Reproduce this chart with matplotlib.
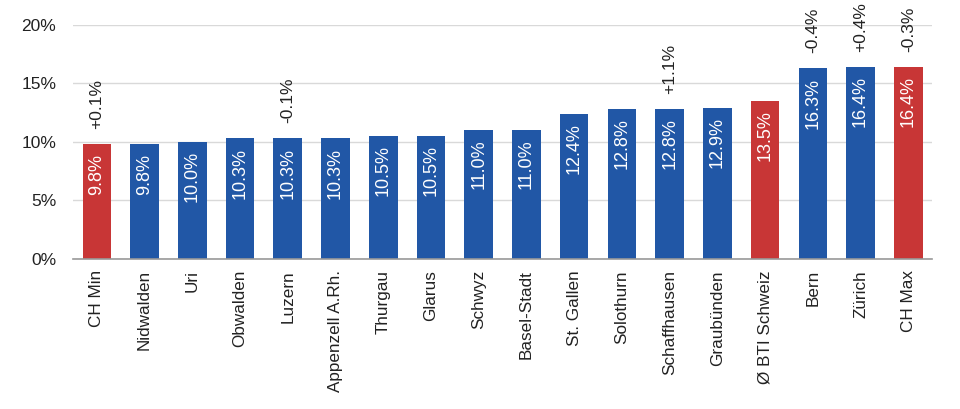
import matplotlib
matplotlib.use("Agg")
import matplotlib.pyplot as plt
from matplotlib.ticker import FuncFormatter

categories = ["CH Min", "Nidwalden", "Uri", "Obwalden", "Luzern", "Appenzell A.Rh.",
              "Thurgau", "Glarus", "Schwyz", "Basel-Stadt", "St. Gallen", "Solothurn",
              "Schaffhausen", "Graubünden", "Ø BTI Schweiz", "Bern", "Zürich", "CH Max"]
values = [9.8, 9.8, 10.0, 10.3, 10.3, 10.3, 10.5, 10.5, 11.0, 11.0, 12.4, 12.8,
          12.8, 12.9, 13.5, 16.3, 16.4, 16.4]
changes = ["+0.1%", "", "", "", "-0.1%", "", "", "", "", "", "", "", "+1.1%", "", "", "-0.4%", "+0.4%", "-0.3%"]
highlight = ["CH Min", "Ø BTI Schweiz", "CH Max"]

BLUE = "#2157a6"
RED = "#c83636"

plt.rcParams["font.family"] = ["Liberation Sans", "DejaVu Sans"]
fig = plt.figure(figsize=(9.6, 4.09), dpi=100)
ax = fig.add_axes([0.076, 0.367, 0.895, 0.572])

x = list(range(len(categories)))
colors = [RED if c in highlight else BLUE for c in categories]
ax.bar(x, values, width=0.6, color=colors, zorder=3)

for xi, v, ch in zip(x, values, changes):
    ax.text(xi, v - 0.8, f"{v:.1f}%", rotation=90, ha="center", va="top",
            color="white", fontsize=13, zorder=4)
    if ch:
        ax.text(xi, v + 1.3, ch, rotation=90, ha="center", va="bottom",
                color="#222222", fontsize=12.5, zorder=4)

ax.set_xlim(-0.5, len(categories) - 0.5)
ax.set_ylim(0, 20)
ax.set_yticks([0, 5, 10, 15, 20])
ax.yaxis.set_major_formatter(FuncFormatter(lambda v, p: f"{v:.0f}%"))
ax.set_xticks(x)
ax.set_xticklabels(categories, rotation=90, fontsize=12.3, color="#222222")
ax.tick_params(axis="y", labelsize=12.5, colors="#222222", length=0, pad=12)
ax.tick_params(axis="x", length=0, pad=8)
ax.grid(axis="y", color="#d9d9d9", linewidth=1, zorder=0)
for s in ["top", "right", "left"]:
    ax.spines[s].set_visible(False)
ax.spines["bottom"].set_color("#999999")
ax.spines["bottom"].set_linewidth(1.2)
ax.spines["bottom"].set_zorder(5)

fig.savefig("out.png", dpi=100)
